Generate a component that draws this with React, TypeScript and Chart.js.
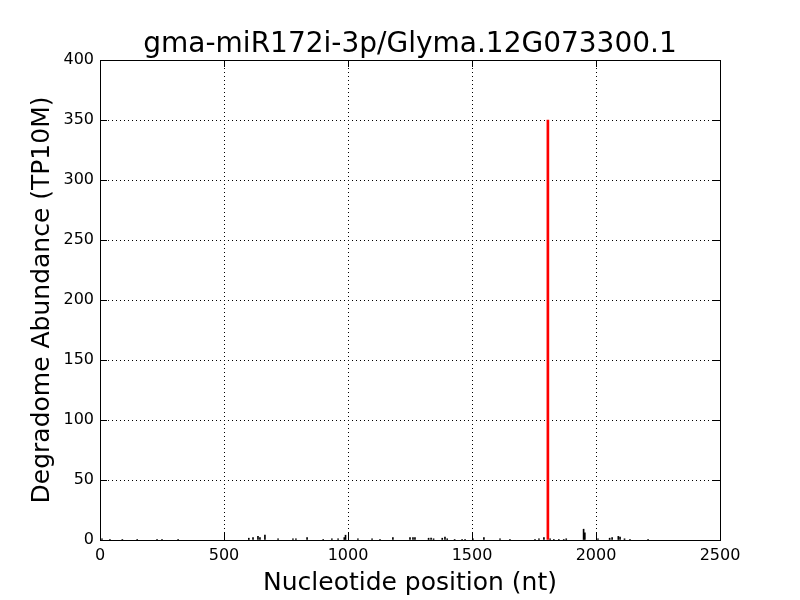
import React, { useEffect, useRef } from "react";
import { Chart, registerables } from "chart.js";

Chart.register(...registerables);

const TITLE = "gma-miR172i-3p/Glyma.12G073300.1";
const X_LABEL = "Nucleotide position (nt)";
const Y_LABEL = "Degradome Abundance (TP10M)";

const bgPositions = [8, 40, 90, 150, 230, 250, 315, 600, 617, 637, 645, 665, 718, 778, 790, 835, 900, 935, 960, 985, 990, 1040, 1097, 1129, 1181, 1250, 1262, 1270, 1325, 1335, 1345, 1380, 1391, 1400, 1430, 1460, 1472, 1504, 1548, 1613, 1653, 1754, 1770, 1790, 1815, 1830, 1850, 1870, 1880, 1950, 1955, 2008, 2055, 2065, 2090, 2097, 2115, 2137, 2210];
const bgValues = [1, 0.5, 0.5, 0.5, 0.5, 0.5, 0.5, 1.5, 2, 3, 2, 4, 1, 1, 1, 2, 0.5, 1, 1, 2, 4, 1, 1, 0.5, 2, 2, 2, 2, 1.5, 1.5, 1, 1.5, 2.5, 1, 0.5, 0.5, 0.5, 1, 2, 1, 0.5, 0.5, 1, 2, 1, 0.5, 0.5, 0.5, 1, 9, 6, 1, 1.5, 2, 3, 2.5, 1, 0.5, 0.5];

const sitePositions = [1806];
const siteValues = [350];

const xTicks = [0, 500, 1000, 1500, 2000, 2500];
const yTicks = [0, 50, 100, 150, 200, 250, 300, 350, 400];

const FONT = "'DejaVu Sans', sans-serif";

export default function App() {
  const ref = useRef<HTMLCanvasElement>(null);
  useEffect(() => {
    const frame = {
      id: "frame",
      afterDatasetsDraw(chart: any) {
        const { ctx, chartArea: a, scales } = chart;
        ctx.save();
        ctx.strokeStyle = "#000";
        ctx.lineWidth = 1;
        ctx.beginPath();
        const L = 7;
        xTicks.forEach((v) => {
          const px = Math.round(scales.x.getPixelForValue(v)) + 0.5;
          ctx.moveTo(px, a.bottom);
          ctx.lineTo(px, a.bottom - L);
          ctx.moveTo(px, a.top);
          ctx.lineTo(px, a.top + L);
        });
        yTicks.forEach((v) => {
          const py = Math.round(scales.y.getPixelForValue(v)) + 0.5;
          ctx.moveTo(a.left, py);
          ctx.lineTo(a.left + L, py);
          ctx.moveTo(a.right, py);
          ctx.lineTo(a.right - L, py);
        });
        ctx.stroke();
        ctx.strokeRect(Math.round(a.left) + 0.5, Math.round(a.top) + 0.5, Math.round(a.right - a.left), Math.round(a.bottom - a.top));
        ctx.fillStyle = "#000";
        ctx.font = `28px ${FONT}`;
        ctx.textAlign = "center";
        ctx.textBaseline = "middle";
        ctx.fillText(TITLE, (a.left + a.right) / 2, 45);
        ctx.restore();
      },
    };
    const chart = new Chart(ref.current!, {
      type: "bar",
      data: {
        datasets: [
          {
            data: bgPositions.map((x, i) => ({ x, y: bgValues[i] })),
            backgroundColor: "#000",
            barThickness: 1,
            order: 2,
          },
          {
            data: sitePositions.map((x, i) => ({ x, y: siteValues[i] })),
            backgroundColor: "#ff0000",
            barThickness: 2,
            order: 1,
          },
        ],
      },
      options: {
        animation: false,
        responsive: false,
        events: [],
        layout: { padding: { left: 0, top: 60, right: 80, bottom: 0 } },
        plugins: { legend: { display: false }, tooltip: { enabled: false }, title: { display: false } },
        datasets: { bar: { grouped: false } } as any,
        scales: {
          x: {
            type: "linear",
            min: 0,
            max: 2500,
            offset: false,
            afterFit: (s: any) => { s.height = 60; },
            afterBuildTicks: (s: any) => { s.ticks = xTicks.map((v) => ({ value: v })); },
            grid: { color: "#000", lineWidth: 1, drawTicks: false, offset: false } as any,
            border: { display: false, dash: [1, 3] } as any,
            ticks: { color: "#000", font: { family: FONT, size: 16 }, padding: 6, maxRotation: 0, callback: (v: any) => String(v) },
            title: { display: true, text: X_LABEL, color: "#000", font: { family: FONT, size: 25 }, padding: 2 },
          },
          y: {
            type: "linear",
            min: 0,
            max: 400,
            afterFit: (s: any) => { s.width = 100; },
            afterBuildTicks: (s: any) => { s.ticks = yTicks.map((v) => ({ value: v })); },
            grid: { color: "#000", lineWidth: 1, drawTicks: false },
            border: { display: false, dash: [1, 3] } as any,
            ticks: { color: "#000", font: { family: FONT, size: 16 }, padding: 6, callback: (v: any) => String(v) },
            title: { display: true, text: Y_LABEL, color: "#000", font: { family: FONT, size: 25 }, padding: 27 },
          },
        },
      },
      plugins: [frame],
    });
    return () => chart.destroy();
  }, []);
  return (
    <div style={{ position: "fixed", left: 0, top: 0, width: 800, height: 600, background: "#fff" }}>
      <canvas ref={ref} width={800} height={600} style={{ width: 800, height: 600 }} />
    </div>
  );
}
